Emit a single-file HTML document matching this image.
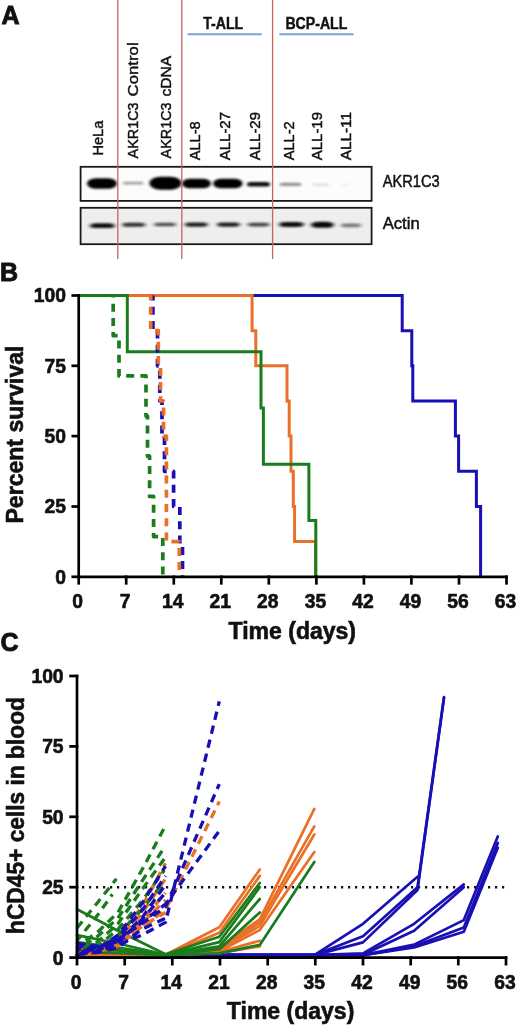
<!DOCTYPE html>
<html><head><meta charset="utf-8"><title>Figure</title>
<style>
html,body{margin:0;padding:0;background:#fff;}
svg{display:block;}
text{font-family:"Liberation Sans",sans-serif;fill:#111;}
.b{font-weight:bold;}
.pa{stroke:#111;stroke-width:0.45;}
.tk{font-weight:bold;font-size:19.3px;stroke:#111;stroke-width:0.6;}
.ti{font-weight:bold;font-size:23px;stroke:#111;stroke-width:0.6;}
.pl{font-weight:bold;font-size:25px;stroke:#111;stroke-width:0.9;}
.ax{stroke:#000;stroke-width:2.7;fill:none;stroke-linecap:square;}
.ln{fill:none;stroke-width:3;stroke-linejoin:miter;}
.c{fill:none;stroke-width:2.7;stroke-linejoin:round;stroke-linecap:round;}
.d{fill:none;stroke-width:3.7;stroke-dasharray:8 6.2;stroke-linejoin:round;}
.dc{fill:none;stroke-width:3.3;stroke-dasharray:8.4 6;stroke-linejoin:round;}
</style></head><body>
<svg width="520" height="1026" viewBox="0 0 520 1026">
<defs>
<filter id="bl" x="-20%" y="-80%" width="140%" height="260%"><feGaussianBlur stdDeviation="1.6 1.1"/></filter>
<filter id="bl2" x="-20%" y="-80%" width="140%" height="260%"><feGaussianBlur stdDeviation="2.2 1.3"/></filter>
</defs>
<rect width="520" height="1026" fill="#fff"/>

<g id="panelA">
<text class="pl" x="1.6" y="23.8">A</text>
<rect x="80.6" y="166.8" width="291" height="34.1" fill="#fcfcfc" stroke="#1a1a1a" stroke-width="1.8"/>
<rect x="80.6" y="207.8" width="291" height="36.4" fill="#eeeeee" stroke="#1a1a1a" stroke-width="1.8"/>
<rect x="87.0" y="178.3" width="30" height="10.5" rx="8.9" ry="5.2" fill="#000" opacity="1.0" filter="url(#bl)"/>
<rect x="122.5" y="181.8" width="21" height="2.8" rx="2.4" ry="1.4" fill="#000" opacity="0.36" filter="url(#bl)"/>
<rect x="149.5" y="176.7" width="32" height="13" rx="11.0" ry="6.5" fill="#000" opacity="1.0" filter="url(#bl)"/>
<rect x="182.0" y="178.8" width="29" height="9.5" rx="8.1" ry="4.8" fill="#000" opacity="1.0" filter="url(#bl)"/>
<rect x="213.1" y="178.8" width="29.5" height="9.5" rx="8.1" ry="4.8" fill="#000" opacity="1.0" filter="url(#bl)"/>
<rect x="247.0" y="181.9" width="23" height="4.6" rx="3.9" ry="2.3" fill="#000" opacity="0.95" filter="url(#bl)"/>
<rect x="279.5" y="182.8" width="22" height="3.2" rx="2.7" ry="1.6" fill="#000" opacity="0.42" filter="url(#bl)"/>
<rect x="312.0" y="183.4" width="17" height="2.4" rx="2.0" ry="1.2" fill="#000" opacity="0.13" filter="url(#bl)"/>
<rect x="339.5" y="183.6" width="10" height="2" rx="1.7" ry="1.0" fill="#000" opacity="0.05" filter="url(#bl)"/>
<rect x="89.8" y="223.3" width="25" height="4.800000000000001" rx="5.8" ry="2.4" fill="#000" opacity="0.95" filter="url(#bl2)"/>
<rect x="122.3" y="222.8" width="23" height="4.0" rx="4.8" ry="2.0" fill="#000" opacity="0.8" filter="url(#bl2)"/>
<rect x="154.0" y="222.7" width="22" height="3.6" rx="4.3" ry="1.8" fill="#000" opacity="0.68" filter="url(#bl2)"/>
<rect x="184.8" y="222.5" width="23" height="4.2" rx="5.0" ry="2.1" fill="#000" opacity="0.88" filter="url(#bl2)"/>
<rect x="217.0" y="222.5" width="23" height="4.2" rx="5.0" ry="2.1" fill="#000" opacity="0.88" filter="url(#bl2)"/>
<rect x="247.6" y="222.7" width="22" height="3.8" rx="4.6" ry="1.9" fill="#000" opacity="0.72" filter="url(#bl2)"/>
<rect x="278.9" y="222.1" width="25" height="5.0" rx="6.0" ry="2.5" fill="#000" opacity="0.95" filter="url(#bl2)"/>
<rect x="310.9" y="221.8" width="23" height="6.0" rx="7.2" ry="3.0" fill="#000" opacity="0.97" filter="url(#bl2)"/>
<rect x="341.0" y="223.6" width="20" height="3.6" rx="4.3" ry="1.8" fill="#000" opacity="0.5" filter="url(#bl2)"/>
<line x1="117.8" y1="0" x2="117.8" y2="259" stroke="#C4665F" stroke-width="1.3"/>
<line x1="181.8" y1="0" x2="181.8" y2="259" stroke="#C4665F" stroke-width="1.3"/>
<line x1="272.6" y1="0" x2="272.6" y2="259" stroke="#C4665F" stroke-width="1.3"/>
<text class="b pa" x="223.2" y="28.6" font-size="17.2" text-anchor="middle" textLength="40" lengthAdjust="spacingAndGlyphs">T-ALL</text>
<line x1="187.6" y1="34.2" x2="261.7" y2="34.2" stroke="#7AA3CB" stroke-width="2"/>
<text class="b pa" x="316.4" y="28.6" font-size="17.2" text-anchor="middle" textLength="62" lengthAdjust="spacingAndGlyphs">BCP-ALL</text>
<line x1="279.4" y1="34.2" x2="353.5" y2="34.2" stroke="#7AA3CB" stroke-width="2"/>
<text class="pa" transform="translate(102.8,155.6) rotate(-90)" font-size="15.3" textLength="35" lengthAdjust="spacingAndGlyphs">HeLa</text>
<text class="pa" transform="translate(138.3,158.4) rotate(-90)" font-size="15.3" textLength="56" lengthAdjust="spacingAndGlyphs">AKR1C3</text>
<text class="pa" transform="translate(138.3,96.4) rotate(-90)" font-size="15.3" textLength="54" lengthAdjust="spacingAndGlyphs">Control</text>
<text class="pa" transform="translate(171.3,158.4) rotate(-90)" font-size="15.3" textLength="56" lengthAdjust="spacingAndGlyphs">AKR1C3</text>
<text class="pa" transform="translate(171.3,96.4) rotate(-90)" font-size="15.3" textLength="40.5" lengthAdjust="spacingAndGlyphs">cDNA</text>
<text class="pa" transform="translate(200.4,160.2) rotate(-90)" font-size="15.3" textLength="38.8" lengthAdjust="spacingAndGlyphs">ALL-8</text>
<text class="pa" transform="translate(229.5,160.2) rotate(-90)" font-size="15.3" textLength="48.2" lengthAdjust="spacingAndGlyphs">ALL-27</text>
<text class="pa" transform="translate(259.8,160.2) rotate(-90)" font-size="15.3" textLength="48.2" lengthAdjust="spacingAndGlyphs">ALL-29</text>
<text class="pa" transform="translate(293.9,160.2) rotate(-90)" font-size="15.3" textLength="38.8" lengthAdjust="spacingAndGlyphs">ALL-2</text>
<text class="pa" transform="translate(322.4,160.2) rotate(-90)" font-size="15.3" textLength="48.2" lengthAdjust="spacingAndGlyphs">ALL-19</text>
<text class="pa" transform="translate(351.2,160.2) rotate(-90)" font-size="15.3" textLength="48.2" lengthAdjust="spacingAndGlyphs">ALL-11</text>
<text class="pa" x="382.7" y="187.4" font-size="15.6" textLength="57" lengthAdjust="spacingAndGlyphs">AKR1C3</text>
<text class="pa" x="382.7" y="228.9" font-size="15.6" textLength="37" lengthAdjust="spacingAndGlyphs">Actin</text>
</g>
<g id="panelB">
<text class="pl" x="0" y="280.9">B</text>
<path class="ln" stroke="#180FB4" d="M252.0,295.5 L402.2,295.5 L402.2,330.7 L411.8,330.7 L411.8,365.8 L412.8,365.8 L412.8,401.0 L455.4,401.0 L455.4,436.1 L458.6,436.1 L458.6,471.3 L476.4,471.3 L476.4,506.5 L480.6,506.5 L480.6,576.8"/>
<path class="ln" stroke="#EA7028" d="M78.7,295.5 L252.1,295.5 L252.1,330.7 L255.8,330.7 L255.8,365.8 L287.0,365.8 L287.0,401.0 L289.2,401.0 L289.2,436.1 L291.0,436.1 L291.0,471.3 L293.3,471.3 L293.3,506.5 L294.6,506.5 L294.6,541.6 L315.6,541.6 L315.6,576.8"/>
<path class="ln" stroke="#1A7C1C" d="M78.7,295.5 L127.3,295.5 L127.3,351.8 L261.0,351.8 L261.0,408.0 L263.4,408.0 L263.4,464.3 L308.9,464.3 L308.9,520.5 L315.8,520.5 L315.8,576.8"/>
<path class="d" stroke="#1A7C1C" stroke-dashoffset="6" d="M113.2,295.5 L113.2,335.7 L119.0,335.7 L119.0,375.9 L146.0,375.9 L146.0,416.1 L147.5,416.1 L147.5,456.2 L149.6,456.2 L149.6,496.4 L153.6,496.4 L153.6,536.6 L162.8,536.6 L162.8,576.8"/>
<path class="d" stroke="#180FB4" stroke-dashoffset="3" d="M152.9,295.5 L152.9,330.7 L157.5,330.7 L157.5,365.8 L159.8,365.8 L159.8,401.0 L162.0,401.0 L162.0,436.1 L164.5,436.1 L164.5,471.3 L173.6,471.3 L173.6,506.5 L179.8,506.5 L179.8,541.6 L182.5,541.6 L182.5,576.8"/>
<path class="d" stroke="#EA7028" stroke-dashoffset="3" d="M150.7,295.5 L150.7,330.7 L158.3,330.7 L158.3,365.8 L160.5,365.8 L160.5,401.0 L163.5,401.0 L163.5,436.1 L166.4,436.1 L166.4,541.6 L179.3,541.6 L179.3,576.8"/>
<path class="ax" d="M78.7,295.5 V576.8 H506.5"/>
<line class="ax" x1="72.8" y1="576.8" x2="78.7" y2="576.8"/>
<text class="tk" x="66" y="583.7" text-anchor="end">0</text>
<line class="ax" x1="72.8" y1="506.5" x2="78.7" y2="506.5"/>
<text class="tk" x="66" y="513.4" text-anchor="end">25</text>
<line class="ax" x1="72.8" y1="436.1" x2="78.7" y2="436.1"/>
<text class="tk" x="66" y="443.0" text-anchor="end">50</text>
<line class="ax" x1="72.8" y1="365.8" x2="78.7" y2="365.8"/>
<text class="tk" x="66" y="372.7" text-anchor="end">75</text>
<line class="ax" x1="72.8" y1="295.5" x2="78.7" y2="295.5"/>
<text class="tk" x="66" y="302.4" text-anchor="end">100</text>
<line class="ax" x1="78.7" y1="576.8" x2="78.7" y2="583.3"/>
<text class="tk" x="77.7" y="607.8" text-anchor="middle">0</text>
<line class="ax" x1="126.2" y1="576.8" x2="126.2" y2="583.3"/>
<text class="tk" x="125.2" y="607.8" text-anchor="middle">7</text>
<line class="ax" x1="173.8" y1="576.8" x2="173.8" y2="583.3"/>
<text class="tk" x="172.8" y="607.8" text-anchor="middle">14</text>
<line class="ax" x1="221.3" y1="576.8" x2="221.3" y2="583.3"/>
<text class="tk" x="220.3" y="607.8" text-anchor="middle">21</text>
<line class="ax" x1="268.8" y1="576.8" x2="268.8" y2="583.3"/>
<text class="tk" x="267.8" y="607.8" text-anchor="middle">28</text>
<line class="ax" x1="316.4" y1="576.8" x2="316.4" y2="583.3"/>
<text class="tk" x="315.4" y="607.8" text-anchor="middle">35</text>
<line class="ax" x1="363.9" y1="576.8" x2="363.9" y2="583.3"/>
<text class="tk" x="362.9" y="607.8" text-anchor="middle">42</text>
<line class="ax" x1="411.4" y1="576.8" x2="411.4" y2="583.3"/>
<text class="tk" x="410.4" y="607.8" text-anchor="middle">49</text>
<line class="ax" x1="459.0" y1="576.8" x2="459.0" y2="583.3"/>
<text class="tk" x="458.0" y="607.8" text-anchor="middle">56</text>
<line class="ax" x1="506.5" y1="576.8" x2="506.5" y2="583.3"/>
<text class="tk" x="505.5" y="607.8" text-anchor="middle">63</text>
<text class="ti" transform="translate(23.3,523.5) rotate(-90)" textLength="178" lengthAdjust="spacingAndGlyphs">Percent survival</text>
<text class="ti" x="292.3" y="638.7" text-anchor="middle" textLength="127.5" lengthAdjust="spacingAndGlyphs">Time (days)</text>
</g>
<g id="panelC">
<text class="pl" x="0.6" y="650.9">C</text>
<line x1="82" y1="887.2" x2="507" y2="887.2" stroke="#111" stroke-width="2.4" stroke-dasharray="2.2 4.8"/>
<path class="c" stroke="#180FB4" d="M77.0,955.1 L314.3,955.1 L363.0,923.8 L417.5,876.8"/>
<path class="c" stroke="#180FB4" d="M77.0,955.1 L314.3,955.1 L363.0,936.2 L417.5,887.2 L444.0,697.1"/>
<path class="c" stroke="#180FB4" d="M77.0,955.1 L314.3,955.1 L363.0,942.4 L417.5,890.0 L444.0,697.7"/>
<path class="c" stroke="#180FB4" d="M77.0,955.1 L314.3,955.1 L363.0,953.4 L414.1,923.8 L463.8,884.4"/>
<path class="c" stroke="#180FB4" d="M77.0,955.1 L314.3,955.1 L363.0,954.8 L414.1,930.8 L463.8,887.2"/>
<path class="c" stroke="#180FB4" d="M77.0,955.1 L363.0,955.1 L414.1,944.6 L463.8,920.1 L497.8,836.5"/>
<path class="c" stroke="#180FB4" d="M77.0,955.1 L363.0,955.1 L414.1,946.3 L463.8,927.5 L497.8,843.0"/>
<path class="c" stroke="#180FB4" d="M77.0,955.1 L363.0,955.1 L414.1,947.5 L463.8,931.7 L497.8,847.8"/>
<path class="c" stroke="#EA7028" d="M77.0,949.2 L117.9,952.0 L165.5,954.8 L219.3,927.2 L259.8,869.5"/>
<path class="c" stroke="#EA7028" d="M77.0,952.0 L117.9,953.1 L165.5,955.1 L219.3,932.8 L259.8,875.9"/>
<path class="c" stroke="#EA7028" d="M77.0,946.3 L117.9,950.6 L165.5,954.8 L219.3,947.7 L259.8,919.3 L314.3,808.9"/>
<path class="c" stroke="#EA7028" d="M77.0,953.4 L117.9,953.9 L165.5,955.1 L219.3,949.2 L259.8,922.4 L314.3,826.4"/>
<path class="c" stroke="#EA7028" d="M77.0,950.6 L117.9,952.5 L165.5,955.1 L219.3,950.3 L259.8,925.8 L314.3,834.5"/>
<path class="c" stroke="#EA7028" d="M77.0,954.8 L117.9,954.8 L165.5,955.1 L219.3,951.4 L259.8,930.0 L314.3,852.0"/>
<path class="c" stroke="#EA7028" d="M77.0,943.5 L117.9,949.2 L165.5,954.5 L219.3,952.0 L259.8,940.7"/>
<path class="c" stroke="#EA7028" d="M77.0,954.2 L117.9,954.8 L165.5,955.1 L219.3,953.1 L259.8,946.3"/>
<path class="c" stroke="#1A7C1C" d="M77.0,909.2 L117.9,930.8 L165.5,954.2 L219.3,936.8 L259.8,883.0"/>
<path class="c" stroke="#1A7C1C" d="M77.0,935.1 L117.9,943.5 L165.5,954.8 L219.3,942.1 L259.8,887.2"/>
<path class="c" stroke="#1A7C1C" d="M77.0,942.1 L117.9,947.5 L165.5,954.8 L219.3,946.3 L259.8,899.0"/>
<path class="c" stroke="#1A7C1C" d="M77.0,947.7 L117.9,950.3 L165.5,955.1 L219.3,949.2 L259.8,912.5"/>
<path class="c" stroke="#1A7C1C" d="M77.0,952.0 L117.9,953.1 L165.5,955.1 L219.3,953.4 L259.8,944.9 L314.3,861.9"/>
<path class="dc" stroke="#EA7028" stroke-dashoffset="0" d="M77.0,949.2 L97.4,946.3 L117.9,942.1 L141.7,928.0 L165.5,909.7 L219.3,801.6"/>
<path class="dc" stroke="#EA7028" stroke-dashoffset="2" d="M77.0,950.6 L97.4,947.7 L117.9,936.5 L141.7,906.9 L165.5,863.3"/>
<path class="dc" stroke="#EA7028" stroke-dashoffset="4" d="M77.0,952.0 L97.4,949.2 L117.9,939.3 L141.7,914.0 L165.5,878.8"/>
<path class="dc" stroke="#EA7028" stroke-dashoffset="6" d="M77.0,952.0 L97.4,949.2 L117.9,940.7 L141.7,921.0 L165.5,892.8"/>
<path class="dc" stroke="#EA7028" stroke-dashoffset="8" d="M77.0,953.4 L97.4,951.4 L117.9,945.8 L141.7,926.6 L165.5,912.5"/>
<path class="dc" stroke="#EA7028" stroke-dashoffset="10" d="M77.0,954.8 L97.4,952.0 L117.9,943.5 L141.7,923.8 L165.5,899.9"/>
<path class="dc" stroke="#1A7C1C" stroke-dashoffset="0" d="M77.0,928.0 L97.4,902.7 L116.5,878.8"/>
<path class="dc" stroke="#1A7C1C" stroke-dashoffset="2" d="M77.0,940.7 L97.4,915.4 L112.4,894.2"/>
<path class="dc" stroke="#1A7C1C" stroke-dashoffset="4" d="M77.0,946.3 L97.4,932.3 L117.9,912.5 L141.7,870.3 L164.2,828.1"/>
<path class="dc" stroke="#1A7C1C" stroke-dashoffset="6" d="M77.0,949.2 L97.4,936.5 L117.9,918.2 L141.7,881.6 L164.2,847.8"/>
<path class="dc" stroke="#1A7C1C" stroke-dashoffset="8" d="M77.0,952.0 L97.4,942.1 L117.9,923.8 L141.7,890.0 L164.2,859.0"/>
<path class="dc" stroke="#1A7C1C" stroke-dashoffset="10" d="M77.0,953.4 L97.4,946.3 L117.9,929.4 L141.7,901.3 L164.2,870.3"/>
<path class="dc" stroke="#1A7C1C" stroke-dashoffset="12" d="M77.0,954.8 L97.4,949.2 L117.9,935.1 L141.7,909.7 L164.2,881.6"/>
<path class="dc" stroke="#180FB4" stroke-dashoffset="0" d="M77.0,943.5 L97.4,946.3 L117.9,944.9 L141.7,935.1 L165.5,922.4 L219.3,701.3"/>
<path class="dc" stroke="#180FB4" stroke-dashoffset="2" d="M77.0,946.3 L97.4,946.3 L117.9,939.3 L141.7,923.8 L165.5,906.9 L219.3,784.1"/>
<path class="dc" stroke="#180FB4" stroke-dashoffset="4" d="M77.0,949.2 L97.4,947.7 L117.9,940.7 L141.7,922.4 L165.5,904.1 L219.3,830.9"/>
<path class="dc" stroke="#180FB4" stroke-dashoffset="6" d="M77.0,950.6 L97.4,949.2 L117.9,935.1 L141.7,904.1 L165.5,866.1"/>
<path class="dc" stroke="#180FB4" stroke-dashoffset="8" d="M77.0,952.0 L97.4,949.2 L117.9,937.9 L141.7,911.1 L165.5,875.9"/>
<path class="dc" stroke="#180FB4" stroke-dashoffset="10" d="M77.0,952.0 L97.4,950.6 L117.9,940.7 L141.7,918.2 L165.5,884.4"/>
<path class="dc" stroke="#180FB4" stroke-dashoffset="12" d="M77.0,953.4 L97.4,952.5 L117.9,947.7 L141.7,929.4 L165.5,918.2"/>
<path class="dc" stroke="#180FB4" stroke-dashoffset="14" d="M77.0,954.8 L97.4,952.0 L117.9,943.5 L141.7,919.6 L165.5,892.8"/>
<path class="ax" d="M77.0,676.0 V957.6 H506.0"/>
<line class="ax" x1="70.6" y1="957.6" x2="77.0" y2="957.6"/>
<text class="tk" x="63.6" y="964.5" text-anchor="end">0</text>
<line class="ax" x1="70.6" y1="887.2" x2="77.0" y2="887.2"/>
<text class="tk" x="63.6" y="894.1" text-anchor="end">25</text>
<line class="ax" x1="70.6" y1="816.8" x2="77.0" y2="816.8"/>
<text class="tk" x="63.6" y="823.7" text-anchor="end">50</text>
<line class="ax" x1="70.6" y1="746.4" x2="77.0" y2="746.4"/>
<text class="tk" x="63.6" y="753.3" text-anchor="end">75</text>
<line class="ax" x1="70.6" y1="676.0" x2="77.0" y2="676.0"/>
<text class="tk" x="63.6" y="682.9" text-anchor="end">100</text>
<line class="ax" x1="77.0" y1="957.6" x2="77.0" y2="964.1"/>
<text class="tk" x="76.0" y="988.6" text-anchor="middle">0</text>
<line class="ax" x1="124.7" y1="957.6" x2="124.7" y2="964.1"/>
<text class="tk" x="123.7" y="988.6" text-anchor="middle">7</text>
<line class="ax" x1="172.3" y1="957.6" x2="172.3" y2="964.1"/>
<text class="tk" x="171.3" y="988.6" text-anchor="middle">14</text>
<line class="ax" x1="220.0" y1="957.6" x2="220.0" y2="964.1"/>
<text class="tk" x="219.0" y="988.6" text-anchor="middle">21</text>
<line class="ax" x1="267.7" y1="957.6" x2="267.7" y2="964.1"/>
<text class="tk" x="266.7" y="988.6" text-anchor="middle">28</text>
<line class="ax" x1="315.3" y1="957.6" x2="315.3" y2="964.1"/>
<text class="tk" x="314.3" y="988.6" text-anchor="middle">35</text>
<line class="ax" x1="363.0" y1="957.6" x2="363.0" y2="964.1"/>
<text class="tk" x="362.0" y="988.6" text-anchor="middle">42</text>
<line class="ax" x1="410.7" y1="957.6" x2="410.7" y2="964.1"/>
<text class="tk" x="409.7" y="988.6" text-anchor="middle">49</text>
<line class="ax" x1="458.3" y1="957.6" x2="458.3" y2="964.1"/>
<text class="tk" x="457.3" y="988.6" text-anchor="middle">56</text>
<line class="ax" x1="506.0" y1="957.6" x2="506.0" y2="964.1"/>
<text class="tk" x="505.0" y="988.6" text-anchor="middle">63</text>
<text class="ti" transform="translate(24.2,934) rotate(-90)" textLength="237" lengthAdjust="spacingAndGlyphs">hCD45+ cells in blood</text>
<text class="ti" x="290.6" y="1019.3" text-anchor="middle" textLength="127.5" lengthAdjust="spacingAndGlyphs">Time (days)</text>
</g>
</svg></body></html>
